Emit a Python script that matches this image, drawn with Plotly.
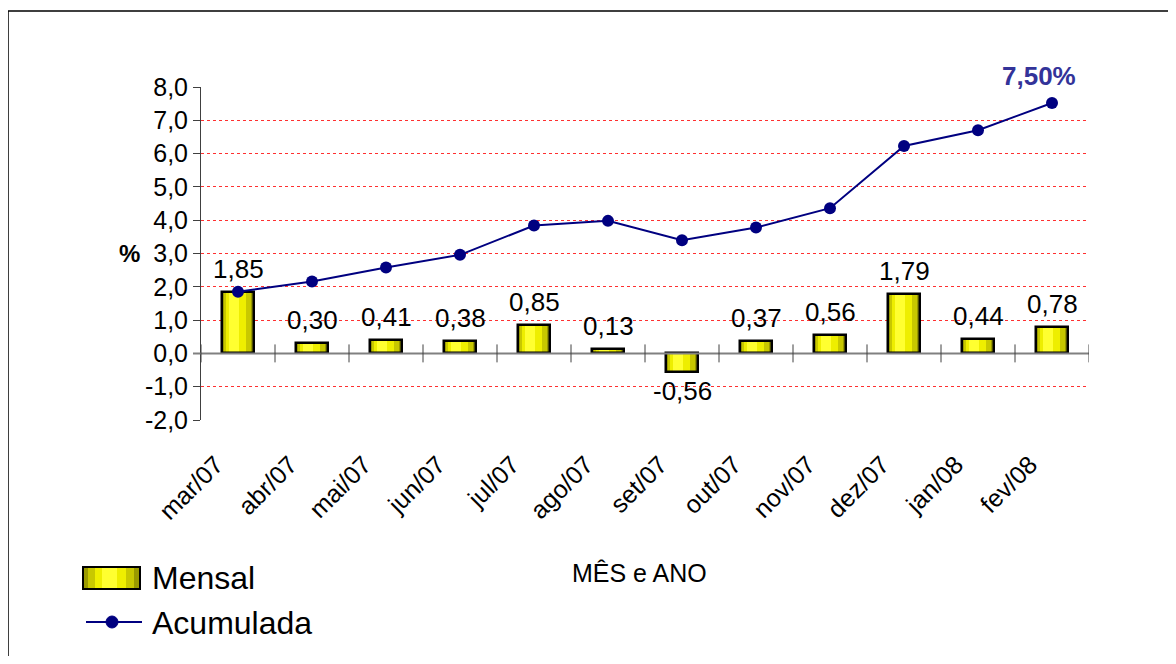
import plotly.graph_objects as go

months = ["mar/07", "abr/07", "mai/07", "jun/07", "jul/07", "ago/07",
          "set/07", "out/07", "nov/07", "dez/07", "jan/08", "fev/08"]
mensal = [1.85, 0.30, 0.41, 0.38, 0.85, 0.13, -0.56, 0.37, 0.56, 1.79, 0.44, 0.78]
acumulada = [1.85, 2.16, 2.58, 2.96, 3.84, 3.98, 3.40, 3.78, 4.36, 6.23, 6.70, 7.52]
y_ticks = [-2, -1, 0, 1, 2, 3, 4, 5, 6, 7, 8]
y_tick_labels = ["-2,0", "-1,0", "0,0", "1,0", "2,0", "3,0", "4,0", "5,0", "6,0", "7,0", "8,0"]
final_label = "7,50%"

FONT = "Liberation Sans, Arial, sans-serif"
x = list(range(len(months)))

# reference pixel -> paper coordinate helpers (plot area 201..1089 x 87..420 in screenshot)
def px(X):
    return (X - 201) / 888

def py(Y):
    return (420 - Y) / 333

fig = go.Figure()
# pseudo-gradient bars (layered)
layers = [(0.43, 0.0, "#9a9a00"), (0.37, -0.01, "#c8c800"),
          (0.27, -0.03, "#eeee00"), (0.13, -0.05, "#ffff30")]
for w, off, col in layers:
    fig.add_trace(go.Bar(x=x, y=mensal, width=w, offset=-w / 2 + off, showlegend=False,
                         marker=dict(color=col, line=dict(width=0)), hoverinfo="skip"))
fig.add_trace(go.Bar(x=x, y=mensal, width=0.43, offset=-0.215, showlegend=False, name="Mensal",
                     marker=dict(color="rgba(0,0,0,0)", line=dict(color="black", width=2.5)),
                     hoverinfo="skip"))
fig.add_trace(go.Scatter(x=x, y=acumulada, mode="lines+markers", name="Acumulada",
                         showlegend=False,
                         line=dict(color="#000080", width=2),
                         marker=dict(color="#000080", size=12)))

annotations = []
for i, v in enumerate(mensal):
    lbl = f"{v:.2f}".replace(".", ",")
    if v >= 0:
        annotations.append(dict(x=i, y=v, text=lbl, showarrow=False, yanchor="bottom",
                                yshift=6, font=dict(size=26, color="black", family=FONT)))
    else:
        annotations.append(dict(x=i, y=v, text=lbl, showarrow=False, yanchor="top",
                                yshift=-2, font=dict(size=26, color="black", family=FONT)))
annotations.append(dict(x=len(months) - 1, y=acumulada[-1], text="<b>" + final_label + "</b>",
                        showarrow=False, yanchor="bottom", yshift=10, xshift=-13,
                        font=dict(size=26, color="#333399", family=FONT)))
annotations.append(dict(xref="paper", yref="paper", x=px(117), y=py(253), yanchor="middle",
                        text="<b>%</b>", showarrow=False,
                        font=dict(size=24, color="black", family=FONT)))
annotations.append(dict(xref="paper", yref="paper", x=px(639), y=py(573), yanchor="middle",
                        text="MÊS e ANO", showarrow=False,
                        font=dict(size=25, color="black", family=FONT)))
# manual legend texts
annotations.append(dict(xref="paper", yref="paper", x=px(150), y=py(578), xanchor="left",
                        yanchor="middle", text="Mensal", showarrow=False,
                        font=dict(size=32, color="black", family=FONT)))
annotations.append(dict(xref="paper", yref="paper", x=px(150), y=py(623), xanchor="left",
                        yanchor="middle", text="Acumulada", showarrow=False,
                        font=dict(size=32, color="black", family=FONT)))

shapes = []
# x axis line at zero
shapes.append(dict(type="line", xref="paper", yref="y", x0=px(193), x1=1, y0=0, y1=0,
                   line=dict(color="#808080", width=2)))
for i in range(len(months)):
    shapes.append(dict(type="line", xref="x", yref="y", x0=i + 0.5, x1=i + 0.5, y0=-0.27, y1=0.27,
                       line=dict(color="#404040", width=1)))
shapes.append(dict(type="line", xref="paper", yref="y", x0=0, x1=0, y0=-0.27, y1=0.27,
                   line=dict(color="#404040", width=1)))
# outer border (only top/left visible)
shapes.append(dict(type="rect", xref="paper", yref="paper",
                   x0=px(8), x1=px(1300), y0=py(800), y1=py(11),
                   line=dict(color="black", width=1.5), layer="below"))
# legend symbol: Mensal (gradient rect)
leg_layers = [(83, 140, "#9a9a00"), (88, 134, "#c8c800"), (95, 126, "#eeee00"), (102, 117, "#ffff30")]
for x0, x1, col in leg_layers:
    shapes.append(dict(type="rect", xref="paper", yref="paper", x0=px(x0), x1=px(x1),
                       y0=py(589), y1=py(567), fillcolor=col, line=dict(width=0)))
shapes.append(dict(type="rect", xref="paper", yref="paper", x0=px(83), x1=px(140),
                   y0=py(589), y1=py(567), line=dict(color="black", width=2)))
# legend symbol: Acumulada (line + marker)
shapes.append(dict(type="line", xref="paper", yref="paper", x0=px(86), x1=px(142),
                   y0=py(622), y1=py(622), line=dict(color="#000080", width=2)))
shapes.append(dict(type="circle", xref="paper", yref="paper", xsizemode="pixel", ysizemode="pixel",
                   xanchor=px(112), yanchor=py(622), x0=-6, x1=6, y0=-6, y1=6,
                   fillcolor="#000080", line=dict(color="#000080", width=1)))

fig.update_layout(
    width=1160, height=648,
    margin=dict(l=193, r=79, t=79, b=236),
    paper_bgcolor="white", plot_bgcolor="white",
    barmode="overlay", bargap=0,
    separators=",.",
    showlegend=False,
    font=dict(family=FONT, color="black"),
    xaxis=dict(tickmode="array", tickvals=x, ticktext=months, tickangle=-45,
               range=[-0.5, len(months) - 0.5], showgrid=False, showline=False,
               zeroline=False, ticks="", ticklabelstandoff=24, ticklabelshift=-22,
               tickfont=dict(size=25, family=FONT)),
    yaxis=dict(range=[-2, 8], tickmode="array", tickvals=y_ticks, ticktext=y_tick_labels,
               showgrid=True, gridcolor="#ff3030", griddash="dot", gridwidth=1,
               zeroline=False, showline=True, linecolor="#404040", linewidth=1,
               ticks="outside", ticklen=7, tickcolor="#404040",
               tickfont=dict(size=25, family=FONT)),
    annotations=annotations,
    shapes=shapes,
)

fig.write_html("out.html")
